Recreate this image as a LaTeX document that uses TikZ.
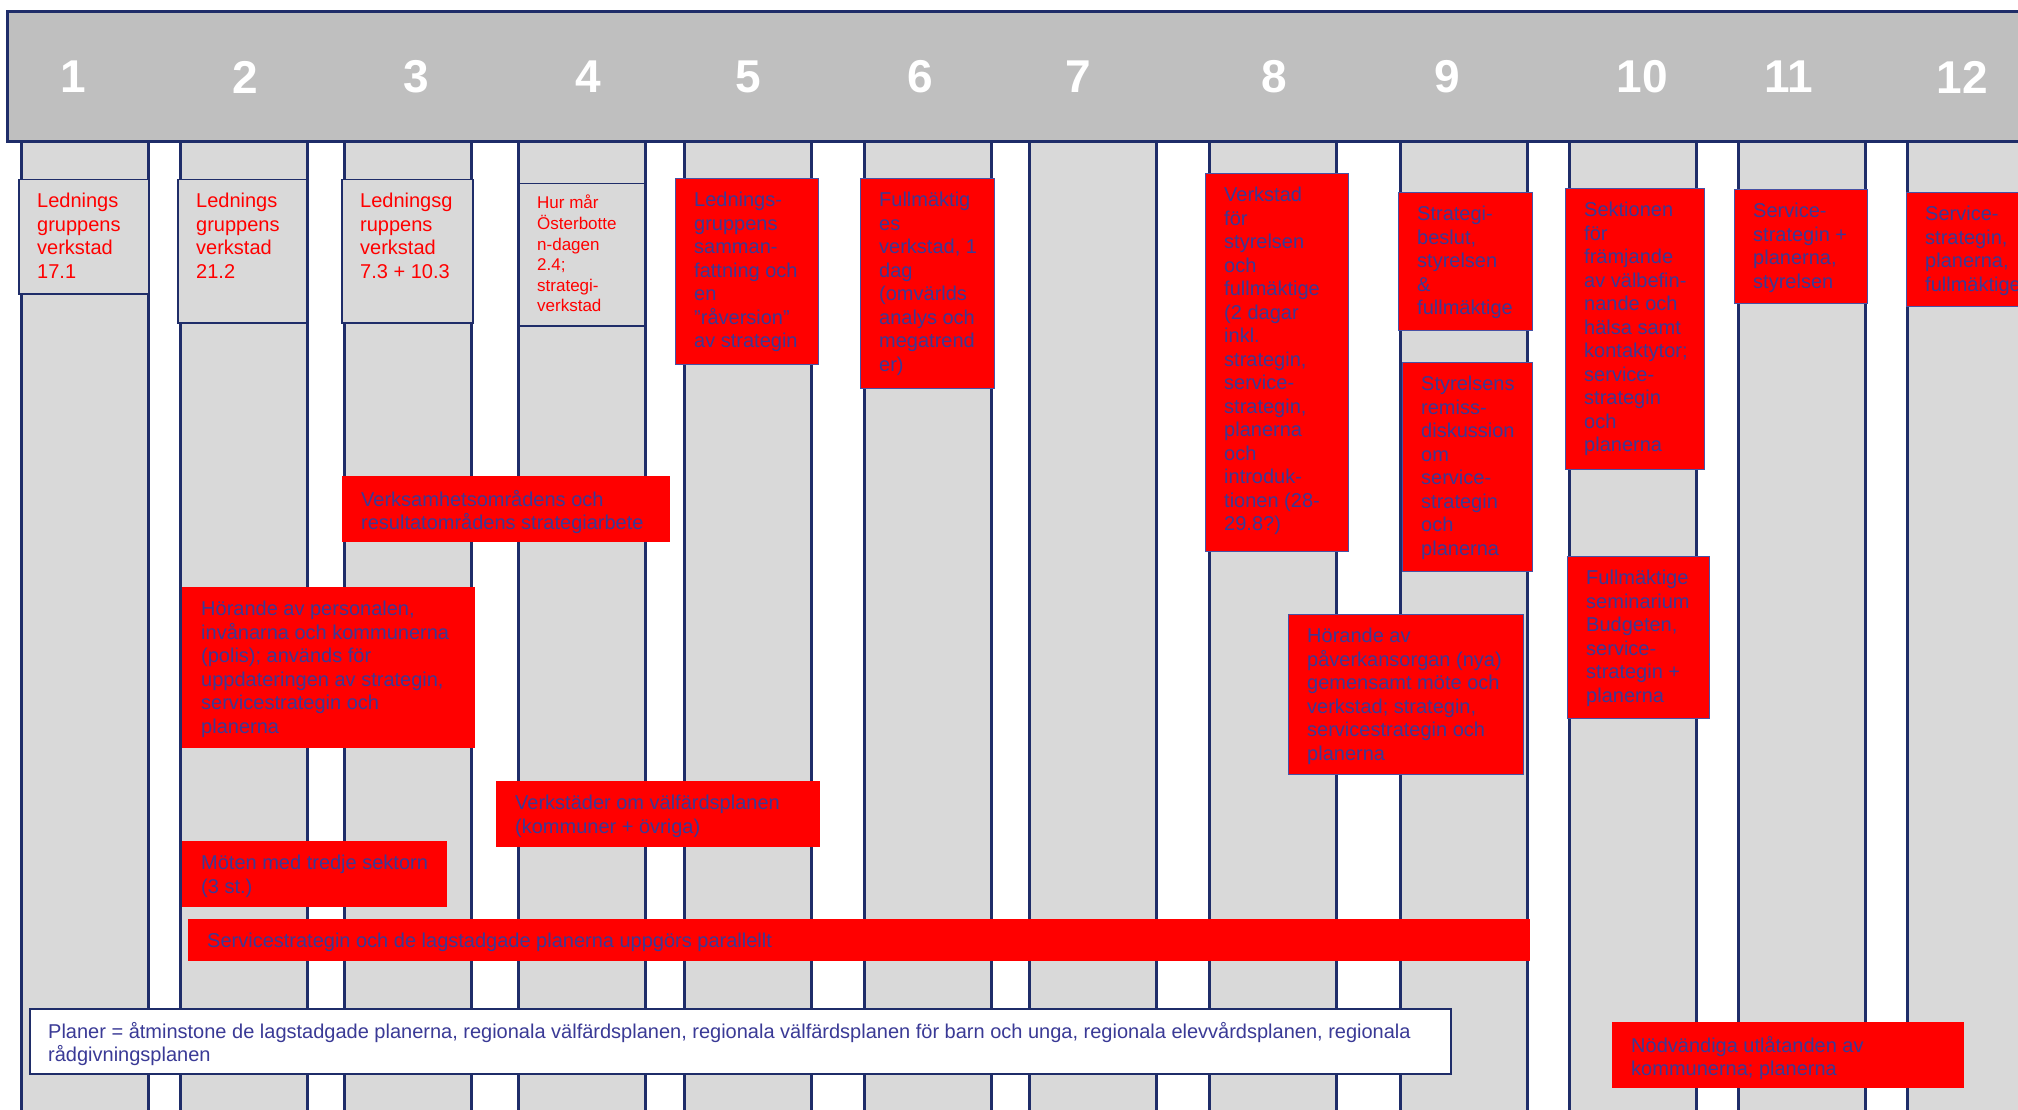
\documentclass[tikz,border=0pt]{standalone}
\usepackage{fontspec}
\setmainfont{Liberation Sans}
\usepackage{tikz}
\usetikzlibrary{positioning}
\usepackage{xcolor}
\definecolor{navyline}{RGB}{31,45,105}
\definecolor{boxedge}{RGB}{72,82,165}
\definecolor{colgray}{RGB}{217,217,217}
\definecolor{headgray}{RGB}{191,191,191}
\definecolor{notetext}{RGB}{58,58,150}

\begin{document}
\begin{tikzpicture}[x=1pt, y=-1pt,
  phase/.style={fill=colgray, minimum width=127pt, minimum height=990pt, anchor=north west, inner sep=0pt, outer sep=0pt},
  phaseedge/.style={draw=navyline, line width=3pt},
  header/.style={fill=headgray, draw=navyline, line width=3pt, minimum width=2040pt, minimum height=130pt, anchor=north west, inner sep=0pt},
  phasenum/.style={text=white, font=\fontsize{46}{46}\selectfont\bfseries},
  graybox/.style={fill=colgray, draw=navyline, line width=1.5pt, anchor=north west, inner sep=0pt},
  redbox/.style={fill=red, draw=boxedge, line width=1pt, anchor=north west, inner sep=0pt},
  redband/.style={fill=red, anchor=north west, inner sep=0pt},
  notebox/.style={fill=white, draw=navyline, line width=1.5pt, anchor=north west, inner sep=0pt},
  note/.style={anchor=north west, align=left, inner xsep=19pt, inner ysep=14pt, font=\fontsize{20}{23.5}\selectfont, text=notetext},
  rednote/.style={note, text=red}
]
  \useasboundingbox (0,0) rectangle (2018,1110);
  \clip (0,0) rectangle (2018,1110);

  \foreach \x [count=\i] in {21,180,344,518,684,864,1029,1209,1400,1569,1738,1907} {
    \node[phase] (col\i) at (\x,140) {};
    \draw[phaseedge] (col\i.north west) -- (col\i.south west) (col\i.north east) -- (col\i.south east);
  }

  \node[header] (head) at (6,10) {};
  \foreach \n/\x in {1/73,2/245,3/416,4/588,5/748,6/920,7/1078,8/1274,9/1447,10/1642,11/1789,12/1962}
    \node[phasenum] (num\n) at (\x,77) {\n};

  \node[graybox, minimum width=130pt, minimum height=114pt] (ws1) at (18,179) {};
  \node[rednote] (ws1txt) at (ws1.north west) {Lednings\\gruppens\\verkstad\\17.1};

  \node[graybox, minimum width=129pt, minimum height=143pt] (ws2) at (177,179) {};
  \node[rednote] (ws2txt) at (ws2.north west) {Lednings\\gruppens\\verkstad\\21.2};

  \node[graybox, minimum width=131pt, minimum height=143pt] (ws3) at (341,179) {};
  \node[rednote] (ws3txt) at (ws3.north west) {Ledningsg\\ruppens\\verkstad\\7.3 + 10.3};

  \node[graybox, minimum width=126pt, minimum height=142pt] (osterb) at (518,183) {};
  \node[rednote, inner ysep=12pt, font=\fontsize{17}{20.6}\selectfont] (osterbtxt) at (osterb.north west) {Hur mår\\Österbotte\\n-dagen\\2.4;\\strategi-\\verkstad};

  \node[redbox, minimum width=143pt, minimum height=186pt] (summary) at (675,178) {};
  \node[note] (summarytxt) at (summary.north west) {Lednings-\\gruppens\\samman-\\fattning och\\en\\”råversion”\\av strategin};

  \node[redbox, minimum width=134pt, minimum height=210pt] (council) at (860,178) {};
  \node[note] (counciltxt) at (council.north west) {Fullmäktig\\es\\verkstad, 1\\dag\\(omvärlds\\analys och\\megatrend\\er)};

  \node[redbox, minimum width=143pt, minimum height=378pt] (boardws) at (1205,173) {};
  \node[note] (boardwstxt) at (boardws.north west) {Verkstad\\för\\styrelsen\\och\\fullmäktige\\(2 dagar\\inkl.\\strategin,\\service-\\strategin,\\planerna\\och\\introduk-\\tionen (28-\\29.8?)};

  \node[redbox, minimum width=134pt, minimum height=138pt] (decision) at (1398,192) {};
  \node[note] (decisiontxt) at (decision.north west) {Strategi-\\beslut,\\styrelsen\\\&\\fullmäktige};

  \node[redbox, minimum width=130pt, minimum height=209pt] (remiss) at (1402,362) {};
  \node[note] (remisstxt) at (remiss.north west) {Styrelsens\\remiss-\\diskussion\\om\\service-\\strategin\\och\\planerna};

  \node[redbox, minimum width=139pt, minimum height=281pt] (section) at (1565,188) {};
  \node[note] (sectiontxt) at (section.north west) {Sektionen\\för\\främjande\\av välbefin-\\nande och\\hälsa samt\\kontaktytor;\\service-\\strategin\\och\\planerna};

  \node[redbox, minimum width=133pt, minimum height=114pt] (board11) at (1734,189) {};
  \node[note] (board11txt) at (board11.north west) {Service-\\strategin +\\planerna,\\styrelsen};

  \node[redbox, minimum width=140pt, minimum height=114pt] (council12) at (1906,192) {};
  \node[note] (council12txt) at (council12.north west) {Service-\\strategin,\\planerna,\\fullmäktige};

  \node[redband, minimum width=328pt, minimum height=66pt] (areas) at (342,476) {};
  \node[note] (areastxt) at (areas.north west) {Verksamhetsområdens och\\resultatområdens strategiarbete};

  \node[redband, minimum width=293pt, minimum height=161pt] (hearing) at (182,587) {};
  \node[note] (hearingtxt) at (hearing.north west) {Hörande av personalen,\\invånarna och kommunerna\\(polis); används för\\uppdateringen av strategin,\\servicestrategin och\\planerna};

  \node[redbox, minimum width=142pt, minimum height=162pt] (seminar) at (1567,556) {};
  \node[note] (seminartxt) at (seminar.north west) {Fullmäktige\\seminarium\\Budgeten,\\service-\\strategin +\\planerna};

  \node[redbox, minimum width=235pt, minimum height=160pt] (advocacy) at (1288,614) {};
  \node[note] (advocacytxt) at (advocacy.north west) {Hörande av\\påverkansorgan (nya)\\gemensamt möte och\\verkstad; strategin,\\servicestrategin och\\planerna};

  \node[redband, minimum width=324pt, minimum height=66pt] (welfare) at (496,781) {};
  \node[note] (welfaretxt) at (welfare.north west) {Verkstäder om välfärdsplanen\\(kommuner + övriga)};

  \node[redband, minimum width=265pt, minimum height=66pt] (thirdsec) at (182,841) {};
  \node[note] (thirdsectxt) at (thirdsec.north west) {Möten med tredje sektorn\\(3 st.)};

  \node[redband, minimum width=1342pt, minimum height=42pt] (parallel) at (188,919) {};
  \node[note] (paralleltxt) at (parallel.north west) {Servicestrategin och de lagstadgade planerna uppgörs parallellt};

  \node[notebox, minimum width=1421pt, minimum height=65pt] (plans) at (29,1008) {};
  \node[note] (planstxt) at (plans.north west) {Planer = åtminstone de lagstadgade planerna, regionala välfärdsplanen, regionala välfärdsplanen för barn och unga, regionala elevvårdsplanen, regionala\\rådgivningsplanen};

  \node[redband, minimum width=352pt, minimum height=66pt] (opinions) at (1612,1022) {};
  \node[note] (opinionstxt) at (opinions.north west) {Nödvändiga utlåtanden av\\kommunerna; planerna};
\end{tikzpicture}
\end{document}
